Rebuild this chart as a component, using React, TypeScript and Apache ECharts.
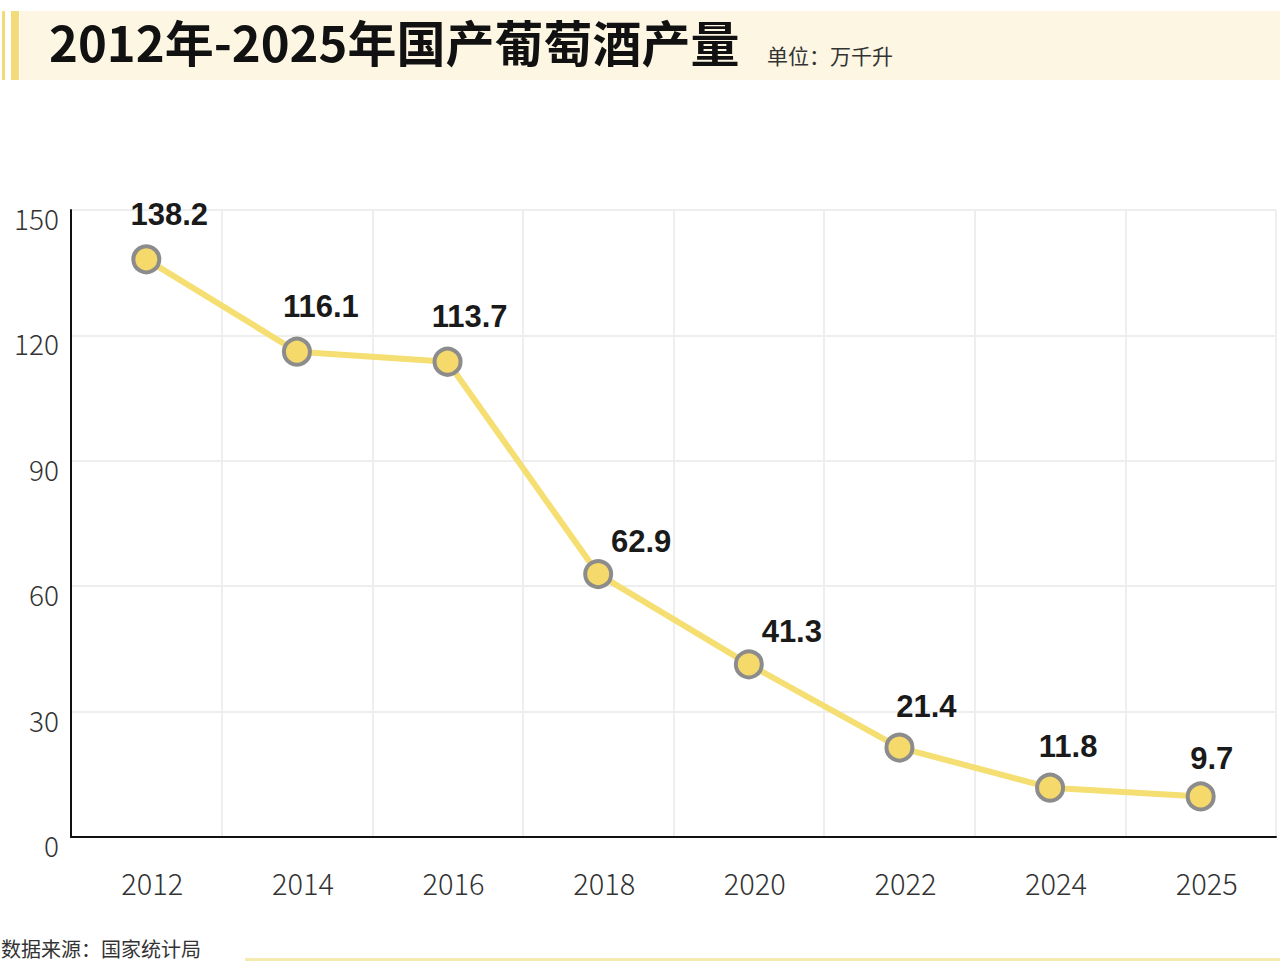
import { useEffect, useRef } from "react";
import * as echarts from "echarts";

const years = ["2012", "2014", "2016", "2018", "2020", "2022", "2024", "2025"];
const output = [138.2, 116.1, 113.7, 62.9, 41.3, 21.4, 11.8, 9.7];
// label nudges so numbers sit clear of the line, like the original
const labelOffsets = [
  [23, -2],
  [24, -3],
  [22, -3],
  [43, 10],
  [43, 10],
  [27, 1],
  [18, 1],
  [11, 5],
];

const TITLE = "2012年-2025年国产葡萄酒产量";
const UNIT = "单位：万千升";
const SOURCE = "数据来源：国家统计局";

const CJK = '"Noto Sans CJK SC", "Noto Sans", sans-serif';
const NUM = '"Liberation Sans", Arial, sans-serif';

export default function App() {
  const chartRef = useRef<HTMLDivElement | null>(null);

  useEffect(() => {
    const el = chartRef.current;
    if (!el) return;
    const chart = echarts.init(el, null, { renderer: "svg" });

    chart.setOption({
      animation: false,
      backgroundColor: "#ffffff",
      grid: { left: 71, right: 4, top: 210, bottom: 127, containLabel: false },
      graphic: [
        { type: "rect", shape: { x: 20, y: 11, width: 1260, height: 69 }, style: { fill: "#FCF6E3" } },
        { type: "rect", shape: { x: 2, y: 11, width: 3, height: 69 }, style: { fill: "#F3DB79" } },
        { type: "rect", shape: { x: 11, y: 11, width: 8, height: 69 }, style: { fill: "#F3DB79" } },
        {
          type: "text",
          left: 49,
          top: 16,
          style: { text: TITLE, font: `bold 49px ${CJK}`, fill: "#111111" },
        },
        {
          type: "text",
          left: 767,
          top: 44,
          style: { text: UNIT, font: `21px ${CJK}`, fill: "#333333" },
        },
        {
          type: "text",
          left: 1,
          top: 937,
          style: { text: SOURCE, font: `20px ${CJK}`, fill: "#333333", lineHeight: 23 },
        },
        { type: "rect", shape: { x: 245, y: 958, width: 1035, height: 3 }, style: { fill: "#F6EBAE" } },
      ],
      xAxis: {
        type: "category",
        data: years,
        boundaryGap: true,
        axisLine: { lineStyle: { color: "#111111", width: 2 } },
        axisTick: { show: false },
        splitLine: { show: true, lineStyle: { color: "#EEEEEE", width: 2 } },
        axisLabel: {
          color: "#333333",
          fontSize: 29,
          fontWeight: 300,
          fontFamily: CJK,
          margin: 30,
          padding: [0, 0, 0, 12],
        },
      },
      yAxis: {
        type: "value",
        min: 0,
        max: 150,
        interval: 30,
        axisLine: { show: true, lineStyle: { color: "#111111", width: 2 } },
        axisTick: { show: false },
        splitLine: { lineStyle: { color: "#EEEEEE", width: 2 } },
        axisLabel: {
          color: "#333333",
          fontSize: 28,
          fontWeight: 300,
          fontFamily: CJK,
          margin: 12,
          verticalAlign: "top",
          lineHeight: 16,
        },
      },
      series: [
        {
          type: "line",
          data: output.map((v, i) => ({
            value: v,
            label: { offset: labelOffsets[i] },
          })),
          symbol: "circle",
          symbolSize: 26,
          lineStyle: { color: "#F5DE72", width: 6 },
          itemStyle: { color: "#F5D96B", borderColor: "#8C8C8C", borderWidth: 4 },
          label: {
            show: true,
            position: "top",
            distance: 12,
            color: "#1A1A1A",
            fontSize: 31,
            fontWeight: "bold",
            fontFamily: NUM,
          },
          z: 3,
        },
      ],
    });

    const handleResize = () => chart.resize();
    window.addEventListener("resize", handleResize);
    return () => {
      window.removeEventListener("resize", handleResize);
      chart.dispose();
    };
  }, []);

  return (
    <div
      ref={chartRef}
      style={{ position: "fixed", left: 0, top: 0, width: 1280, height: 964 }}
    />
  );
}
